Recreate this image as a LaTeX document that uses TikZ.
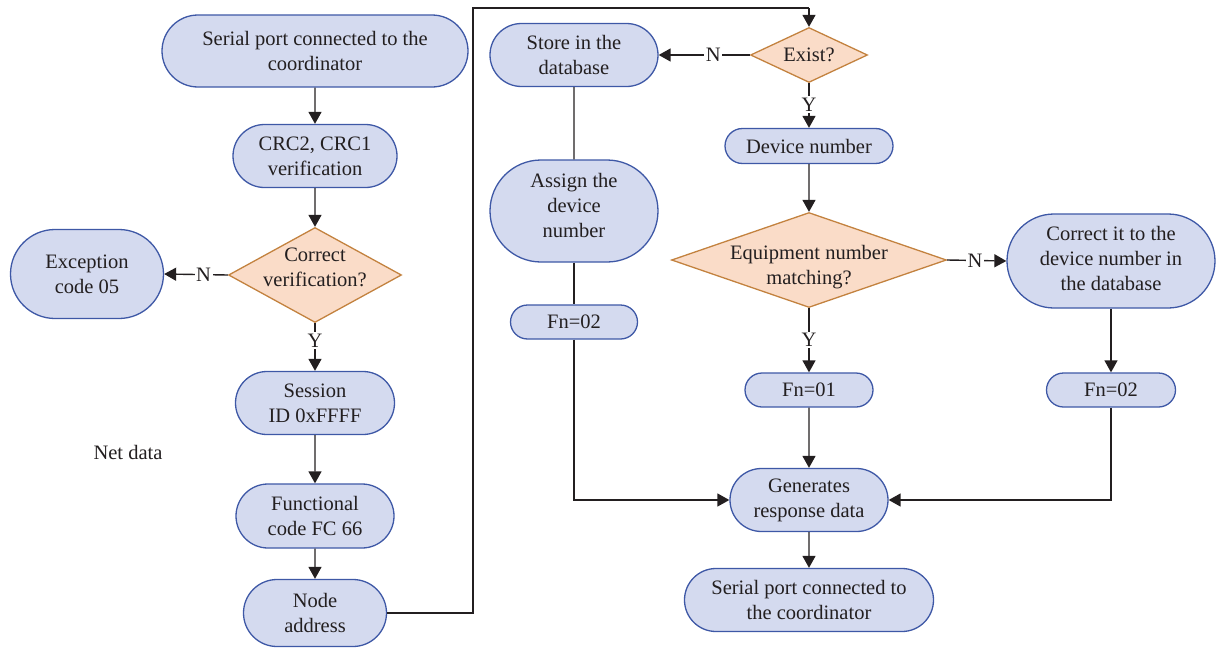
\documentclass[tikz,border=0pt]{standalone}
\usepackage{fontspec}
\setmainfont{Liberation Serif}
\usetikzlibrary{shapes.misc,shapes.geometric,arrows.meta}
\definecolor{boxfill}{HTML}{D4DAEF}
\definecolor{boxline}{HTML}{3E58A6}
\definecolor{dfill}{HTML}{FADCC8}
\definecolor{dline}{HTML}{C3823F}
\definecolor{ink}{HTML}{231F20}
\tikzset{
  pill/.style={rounded rectangle, draw=boxline, fill=boxfill, line width=1.3pt, inner sep=0pt, align=center, text=ink},
  dia/.style={diamond, draw=dline, fill=dfill, line width=1.3pt, inner sep=0pt},
  dtext/.style={align=center, text=ink, inner sep=0pt},
  conn/.style={draw=ink, line width=1.4pt},
  arr/.style={conn, -{Triangle[length=12pt,width=13pt]}},
  yn/.style={fill=white, inner sep=1.5pt, text=ink}
}
\begin{document}
\begin{tikzpicture}[x=1pt,y=-1pt,font=\fontsize{20.5}{25}\selectfont]
\useasboundingbox (0,0) rectangle (1216,648);
% left column
\node[pill, minimum width=306pt, minimum height=72pt] (s1) at (315,51) {Serial port connected to the\\coordinator};
\node[pill, minimum width=164pt, minimum height=63pt] (crc) at (315,156) {CRC2, CRC1\\verification};
\node[dia, minimum width=173pt, minimum height=95pt] (cv) at (315,275) {};
\node[dtext] (cvt) at (315,267) {Correct\\verification?};
\node[pill, minimum width=153pt, minimum height=89pt] (exc) at (87,274) {Exception\\code 05};
\node[pill, minimum width=159pt, minimum height=63pt] (sess) at (315,403) {Session\\ID 0xFFFF};
\node[pill, minimum width=158pt, minimum height=64pt] (func) at (315,516) {Functional\\code FC 66};
\node[pill, minimum width=143pt, minimum height=67pt] (addr) at (315,613) {Node\\address};
\node[text=ink] (net) at (128,452) {Net data};
% middle column
\node[pill, minimum width=168pt, minimum height=63pt] (store) at (574,55) {Store in the\\database};
\node[pill, minimum width=168pt, minimum height=102pt] (assign) at (574,211) {};
\node[dtext] (assignt) at (574,205) {Assign the\\device\\number};
\node[pill, minimum width=127pt, minimum height=34pt] (fnl) at (574,322) {Fn=02};
% right column
\node[dia, minimum width=117pt, minimum height=55pt] (ex) at (809,55) {};
\node[dtext] (ext) at (809,55) {Exist?};
\node[pill, minimum width=168pt, minimum height=35pt] (dev) at (809,146) {Device number};
\node[dia, minimum width=275pt, minimum height=95pt] (eq) at (809,260) {};
\node[dtext] (eqt) at (809,267) {Equipment number\\matching?};
\node[pill, minimum width=208pt, minimum height=94pt] (cor) at (1111,261) {};
\node[dtext] (cort) at (1111,258) {Correct it to the\\device number in\\the database};
\node[pill, minimum width=128pt, minimum height=34pt] (fn1) at (809,390) {Fn=01};
\node[pill, minimum width=129pt, minimum height=34pt] (fnr) at (1111,390) {Fn=02};
\node[pill, minimum width=158pt, minimum height=63pt] (gen) at (809,500) {Generates\\response data};
\node[pill, minimum width=249pt, minimum height=63pt] (s2) at (809,600) {Serial port connected to\\the coordinator};
% connectors
\coordinate (c1) at (473,613);
\coordinate (c2) at (473,8);
\coordinate (c3) at (809,8);
\coordinate (c4) at (574,500);
\coordinate (c5) at (1111,500);
\draw[arr] (s1) -- (crc);
\draw[arr] (crc) -- (cv);
\draw[arr] (cv.west) -- node[yn, pos=0.38] (n1) {N} (exc.east);
\draw[arr] (cv.south) -- node[yn, pos=0.36] (y1) {Y} (sess.north);
\draw[arr] (sess) -- (func);
\draw[arr] (func) -- (addr);
\draw[conn] (addr.east) -- (c1) -- (c2) -- (c3);
\draw[arr] (c3) -- (ex.north);
\draw[arr] (ex.west) -- node[yn, pos=0.4] (n2) {N} (store.east);
\draw[arr] (ex.south) -- node[yn, pos=0.48] (y2) {Y} (dev.north);
\draw[conn] (store) -- (assign);
\draw[conn] (assign) -- (fnl);
\draw[arr] (fnl.south) -- (c4) -- (gen.west);
\draw[arr] (dev) -- (eq);
\draw[arr] (eq.east) -- node[yn, pos=0.47] (n3) {N} (cor.west);
\draw[arr] (eq.south) -- node[yn, pos=0.5] (y3) {Y} (fn1.north);
\draw[arr] (cor) -- (fnr);
\draw[arr] (fn1) -- (gen);
\draw[arr] (fnr.south) -- (c5) -- (gen.east);
\draw[arr] (gen) -- (s2);
\end{tikzpicture}
\end{document}
